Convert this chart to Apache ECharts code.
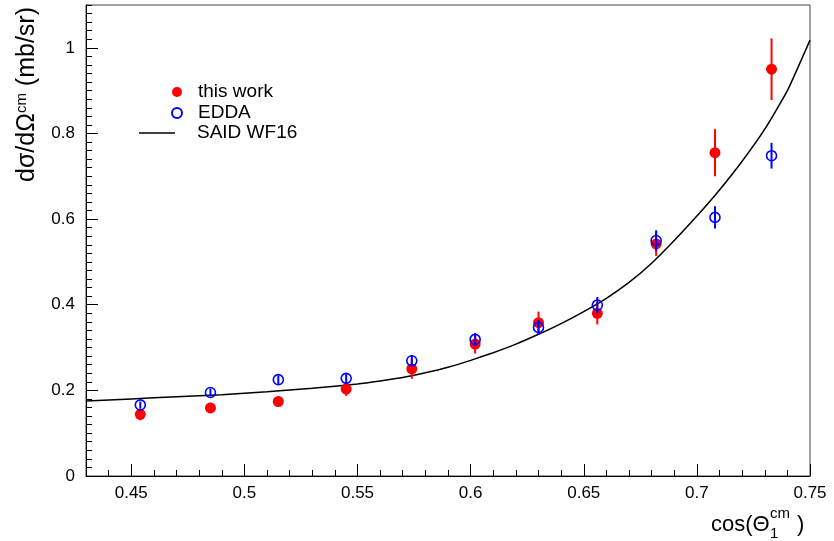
<!DOCTYPE html>
<html>
<head>
<meta charset="utf-8">
<script src="https://cdn.jsdelivr.net/npm/echarts@6/dist/echarts.min.js"></script>
<style>
  html, body { margin: 0; padding: 0; background: #fff; }
  #chart { width: 834px; height: 541px; }
</style>
</head>
<body>
<div id="chart"></div>
<script>
// cos(theta_cm) bins
var cosTheta = [0.454, 0.485, 0.515, 0.545, 0.574, 0.602, 0.630, 0.656, 0.682, 0.708, 0.733];
// this work
var thisWork    = [0.144, 0.159, 0.174, 0.203, 0.250, 0.308, 0.358, 0.380, 0.542, 0.755, 0.950];
var thisWorkErr = [0.014, 0.012, 0.012, 0.016, 0.023, 0.022, 0.026, 0.026, 0.028, 0.055, 0.072];
// EDDA
var edda    = [0.166, 0.195, 0.225, 0.228, 0.269, 0.319, 0.347, 0.399, 0.550, 0.604, 0.748];
var eddaErr = [0.008, 0.009, 0.010, 0.011, 0.013, 0.015, 0.017, 0.019, 0.024, 0.026, 0.030];
// SAID WF16 curve
var saidX = [0.43, 0.45, 0.47, 0.49, 0.51, 0.53, 0.55, 0.56, 0.57, 0.58, 0.59, 0.60, 0.61, 0.62, 0.63, 0.64, 0.65, 0.66, 0.67, 0.68, 0.69, 0.70, 0.71, 0.72, 0.73, 0.74, 0.75];
var saidY = [0.175, 0.180, 0.185, 0.190, 0.197, 0.205, 0.215, 0.222, 0.230, 0.241, 0.254, 0.270, 0.288, 0.308, 0.331, 0.356, 0.384, 0.415, 0.452, 0.497, 0.550, 0.607, 0.668, 0.735, 0.810, 0.900, 1.018];
// tick labels
var xTicks = [0.45, 0.5, 0.55, 0.6, 0.65, 0.7, 0.75];
var yTicks = [0, 0.2, 0.4, 0.6, 0.8, 1];

var font = 'Liberation Sans, Arial, Helvetica, sans-serif';

function errorBars(vals, errs, color, z) {
  return {
    type: 'custom',
    silent: true,
    z: z,
    xAxisIndex: 0,
    yAxisIndex: 0,
    renderItem: function (params, api) {
      var p1 = api.coord([api.value(0), api.value(1)]);
      var p2 = api.coord([api.value(0), api.value(2)]);
      return {
        type: 'line',
        shape: { x1: p1[0], y1: p1[1], x2: p2[0], y2: p2[1] },
        style: { stroke: color, lineWidth: 2 }
      };
    },
    encode: { x: 0, y: [1, 2] },
    data: cosTheta.map(function (c, i) { return [c, vals[i] - errs[i], vals[i] + errs[i]]; })
  };
}

var chart = echarts.init(document.getElementById('chart'));
chart.setOption({
  animation: false,
  grid: { left: 86, right: 24, top: 5, bottom: 65, show: true, borderColor: '#444', borderWidth: 1 },
  xAxis: [
    {
      type: 'value', min: 0.43, max: 0.75, position: 'bottom',
      axisLine: { lineStyle: { color: '#000', width: 1 } },
      axisTick: { inside: true, length: 12, customValues: xTicks, lineStyle: { color: '#000' } },
      axisLabel: {
        customValues: xTicks, margin: 9, fontSize: 17, color: '#000', fontFamily: font,
        formatter: function (v) { return String(+v.toFixed(2)); }
      },
      splitLine: { show: false }
    },
    {
      type: 'value', min: 0.43, max: 0.75, interval: 0.01, position: 'bottom',
      axisLine: { show: false },
      axisTick: { inside: true, length: 6, lineStyle: { color: '#000' } },
      axisLabel: { show: false },
      splitLine: { show: false }
    }
  ],
  yAxis: [
    {
      type: 'value', min: 0, max: 1.1, position: 'left',
      axisLine: { show: true, lineStyle: { color: '#000', width: 1 } },
      axisTick: { show: true, inside: true, length: 12, customValues: yTicks, lineStyle: { color: '#000' } },
      axisLabel: {
        customValues: yTicks, margin: 11, fontSize: 17, color: '#000', fontFamily: font,
        formatter: function (v) { return String(+v.toFixed(1)); }
      },
      splitLine: { show: false }
    },
    {
      type: 'value', min: 0, max: 1.1, interval: 0.02, position: 'left',
      axisLine: { show: false },
      axisTick: { show: true, inside: true, length: 6, lineStyle: { color: '#000' } },
      axisLabel: { show: false },
      splitLine: { show: false }
    }
  ],
  legend: [
    {
      data: ['this work', 'EDDA'], orient: 'vertical', left: 166, top: 77,
      itemWidth: 10, itemHeight: 10, itemGap: 1, selectedMode: false,
      textStyle: { fontSize: 19, color: '#000', fontFamily: font, lineHeight: 20, padding: [0, 0, 0, 11] }
    },
    {
      data: [{ name: 'SAID WF16', icon: 'rect' }], orient: 'vertical', left: 134, top: 118,
      itemWidth: 36, itemHeight: 1.5, selectedMode: false,
      itemStyle: { color: '#000' },
      textStyle: { fontSize: 19, color: '#000', fontFamily: font, lineHeight: 20, padding: [0, 0, 0, 17] }
    }
  ],
  graphic: [
    {
      type: 'text', x: 27, y: 7, rotation: Math.PI / 2,
      style: {
        text: '{m|dσ/dΩ}{s|cm}{m| (mb/sr)}',
        align: 'right', verticalAlign: 'middle', fill: '#000',
        rich: {
          m: { fontSize: 25, fontFamily: font, fill: '#000' },
          s: { fontSize: 15, fontFamily: font, fill: '#000', verticalAlign: 'top' }
        }
      }
    },
    { type: 'text', x: 711, y: 525, style: { text: 'cos(Θ', fontSize: 22, fontFamily: font, fill: '#000', verticalAlign: 'middle' } },
    { type: 'text', x: 770, y: 514, style: { text: 'cm', fontSize: 15, fontFamily: font, fill: '#000', verticalAlign: 'middle' } },
    { type: 'text', x: 770, y: 534, style: { text: '1', fontSize: 15, fontFamily: font, fill: '#000', verticalAlign: 'middle' } },
    { type: 'text', x: 797, y: 525, style: { text: ')', fontSize: 22, fontFamily: font, fill: '#000', verticalAlign: 'middle' } }
  ],
  series: [
    {
      name: 'SAID WF16', type: 'line', symbol: 'none', smooth: 0.15, z: 1,
      lineStyle: { color: '#000', width: 1.5 },
      itemStyle: { color: '#000' },
      data: saidX.map(function (x, i) { return [x, saidY[i]]; })
    },
    errorBars(thisWork, thisWorkErr, '#ff0000', 2),
    {
      name: 'this work', type: 'scatter', symbol: 'circle', symbolSize: 11, z: 3,
      itemStyle: { color: '#ff0000', opacity: 1 },
      data: cosTheta.map(function (c, i) { return [c, thisWork[i]]; })
    },
    errorBars(edda, eddaErr, '#0000ff', 4),
    {
      name: 'EDDA', type: 'scatter', symbol: 'circle', symbolSize: 10, z: 5,
      itemStyle: { color: 'rgba(0,0,0,0)', borderColor: '#0000ff', borderWidth: 1.6, opacity: 1 },
      data: cosTheta.map(function (c, i) { return [c, edda[i]]; })
    }
  ]
});
</script>
</body>
</html>
